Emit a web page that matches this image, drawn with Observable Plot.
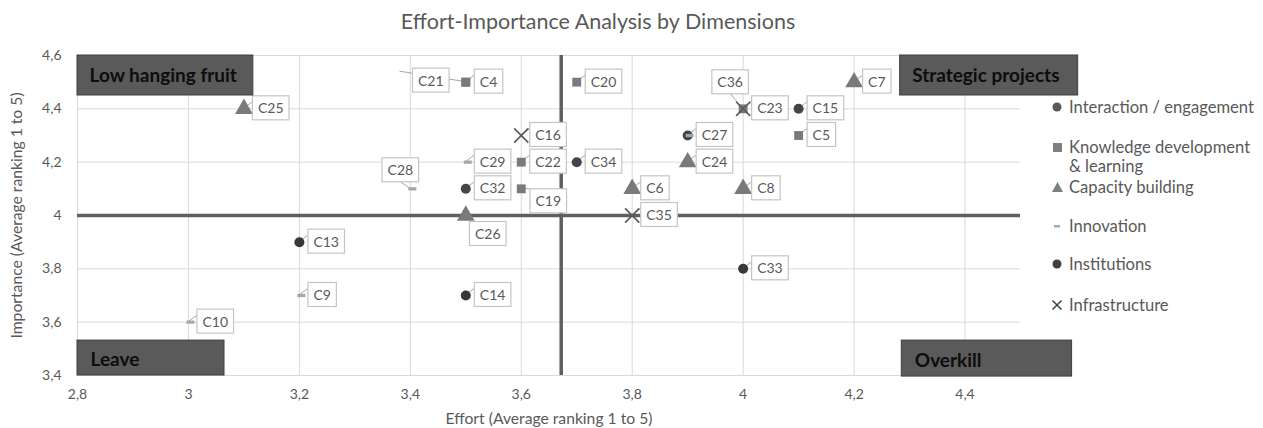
<!DOCTYPE html>
<html><head><meta charset="utf-8">
<script src="https://cdn.jsdelivr.net/npm/d3@7"></script>
<script src="https://cdn.jsdelivr.net/npm/@observablehq/plot@0.6"></script>
<style>
body{margin:0;background:#fff;font-family:Lato,"Open Sans",sans-serif;}
#wrap{position:relative;width:1263px;height:428px;overflow:hidden;background:#fff}
#chart{position:absolute;left:0;top:0}
#title{position:absolute;top:8px;left:298px;width:600px;text-align:center;font-size:21.5px;color:#595959;white-space:nowrap}
.lg{position:absolute;left:1051px;font-size:16.6px;color:#595959;line-height:18.5px;white-space:nowrap}
.lg svg{position:absolute;left:0;top:3px}
.lg span{position:absolute;left:18px;top:0}
</style></head><body>
<div id="wrap">
  <div id="chart"></div>
  <div id="title">Effort-Importance Analysis by Dimensions</div>
  <div id="legend"></div>
</div>
<script>
// ---- data ----
const dimensions = ["Interaction / engagement","Knowledge development & learning","Capacity building","Innovation","Institutions","Infrastructure"];
const names      = ["C25","C21","C4","C20","C7","C36","C23","C15","C16","C27","","C5","C29","C22","C34","C24","C28","C32","C19","C6","C8","C26","C35","C13","C33","C9","C14","C10"];
const effort     = [3.1,3.5,3.5,3.7,4.2,4.0,4.0,4.1,3.6,3.9,3.9,4.1,3.5,3.6,3.7,3.9,3.4,3.5,3.6,3.8,4.0,3.5,3.8,3.2,4.0,3.2,3.5,3.0];
const importance = [4.4,4.5,4.5,4.5,4.5,4.4,4.4,4.4,4.3,4.3,4.3,4.3,4.2,4.2,4.2,4.2,4.1,4.1,4.1,4.1,4.1,4.0,4.0,3.9,3.8,3.7,3.7,3.6];
const dimIndex   = [2,1,1,1,2,5,1,0,5,0,3,1,3,1,0,2,3,0,1,2,2,2,5,4,4,3,4,3];
const xTicks = [2.8,3.0,3.2,3.4,3.6,3.8,4.0,4.2,4.4];
const yTicks = [3.4,3.6,3.8,4.0,4.2,4.4,4.6];
const meanEffort = 3.672;
const meanImportance = 4.0;
const quadLabels = ["Low hanging fruit","Strategic projects","Leave","Overkill"];
const quadX1 = [2.8, 4.283, 2.8, 4.286];
const quadX2 = [3.117, 4.604, 3.065, 4.593];
const quadY1 = [4.45, 4.45, 3.4, 3.396];
const quadY2 = [4.6, 4.6, 3.531, 3.531];

// ---- tables ----
const points = names.map((n,i)=>({name:n, x:effort[i], y:importance[i], dim:dimensions[dimIndex[i]]}));
const quads = quadLabels.map((l,i)=>({label:l, x1:quadX1[i], x2:quadX2[i], y1:quadY1[i], y2:quadY2[i], top: i<2}));

// ---- styles ----
const dash = {draw(ctx, size){ const r = Math.sqrt(size/Math.PI); ctx.rect(-r+2, -1.6, 2*r, 3.2); }};
const symStyle = {
  "Interaction / engagement": {symbol:"circle", r:5, fill:"#454545"},
  "Knowledge development & learning": {symbol:"square", r:5, fill:"#7a7a7a"},
  "Capacity building": {symbol:"triangle", r:6.6, fill:"#7a7a7a"},
  "Innovation": {symbol:dash, r:4, fill:"#a6a6a6"},
  "Institutions": {symbol:"circle", r:5, fill:"#383838"},
  "Infrastructure": {symbol:"times", r:6.5, fill:"none", stroke:"#595959", strokeWidth:1.6}
};
const special = { // label placement (pixel offsets from the marker, text centred)
  "C21": {dx:-35, dy:-1, lead:[-13,3]},
  "C28": {dx:-10, dy:-18, lead:[1,12]},
  "C36": {dx:-13, dy:-26, lead:[0,2]},
  "C19": {dx:27, dy:13, lead:[0,0]},
  "C26": {dx:22, dy:19, lead:[0,0]}
};
const fmt = d => String(d).replace(".", ",");

const labelled = points.filter(d=>d.name);
const defaultLabels = labelled.filter(d=>!special[d.name]);
const specialLabels = labelled.filter(d=>special[d.name]);

const dotMarks = dimensions.map(dim => {
  const s = symStyle[dim];
  return Plot.dot(points.filter(d=>d.dim===dim), {x:"x", y:"y", symbol:s.symbol, r:s.r, fill:s.fill,
    stroke: s.stroke || "none", strokeWidth: s.strokeWidth || 0});
});

const plot = Plot.plot({
  width:1263, height:428,
  marginLeft:77, marginRight:243, marginTop:55, marginBottom:53,
  style:{fontFamily:"Lato, 'Open Sans', sans-serif", fontSize:"14px", color:"#595959", background:"white", overflow:"visible"},
  x:{domain:[2.8,4.5], ticks:xTicks, tickFormat:fmt, tickSize:0, tickPadding:14,
     label:"Effort (Average ranking 1 to 5)", labelAnchor:"center", labelOffset:48, labelArrow:"none"},
  y:{domain:[3.4,4.6], ticks:yTicks, tickFormat:fmt, tickSize:0, tickPadding:16,
     label:"Importance (Average ranking 1 to 5)", labelAnchor:"center", labelOffset:67, labelArrow:"none"},
  marks:[
    Plot.gridX(xTicks, {stroke:"#d9d9d9", strokeOpacity:1}),
    Plot.gridY(yTicks, {stroke:"#d9d9d9", strokeOpacity:1}),
    Plot.ruleY([meanImportance], {stroke:"#5f5f5f", strokeWidth:3.5}),
    Plot.ruleX([meanEffort], {stroke:"#5f5f5f", strokeWidth:3.5}),
    ...dotMarks,
    Plot.text(defaultLabels, {x:"x", y:"y", text:"name", textAnchor:"start", dx:14, fill:"#595959", fontSize:14}),
    ...specialLabels.map(d => Plot.text([d], {x:"x", y:"y", text:"name", textAnchor:"middle", dx:special[d.name].dx, dy:special[d.name].dy, fill:"#595959", fontSize:14})),
    Plot.rect(quads, {x1:"x1", x2:"x2", y1:"y1", y2:"y2", fill:"#5a5a5a", stroke:"#3f3f3f", strokeWidth:1}),
    Plot.text(quads.filter(d=>d.top), {x:"x1", y:d=>(d.y1+d.y2)/2, text:"label", textAnchor:"start", dx:12, fill:"#0d0d0d", fontSize:19, fontWeight:"bold"}),
    Plot.text(quads.filter(d=>!d.top), {x:"x1", y:d=>(d.y1+d.y2)/2, text:"label", textAnchor:"start", dx:13, dy:2, fill:"#0d0d0d", fontSize:19, fontWeight:"bold"})
  ]
});
document.getElementById("chart").append(plot);

// axis titles are larger than tick labels
plot.querySelectorAll('g[aria-label="x-axis label"] text, g[aria-label="y-axis label"] text').forEach(t => t.setAttribute("font-size", "15.7"));
plot.querySelectorAll('g[aria-label="x-axis label"], g[aria-label="y-axis label"]').forEach(g => g.setAttribute("font-size", "15.7"));

// ---- label boxes and leader lines ----
const NS = "http://www.w3.org/2000/svg";
const xs = plot.scale("x"), ys = plot.scale("y");
const svgRect = plot.getBoundingClientRect();
const order = [defaultLabels, ...specialLabels.map(d=>[d])];
const groups = Array.from(plot.querySelectorAll('g[aria-label="text"]')).slice(0, order.length);
const leadG = document.createElementNS(NS, "g");
leadG.setAttribute("stroke", "#a6a6a6"); leadG.setAttribute("stroke-width", "1");
groups.forEach((g, gi) => {
  const texts = g.querySelectorAll("text");
  texts.forEach((t, i) => {
    const d = order[gi][i];
    if (!d) return;
    const bb = t.getBBox();
    const cy = bb.y + bb.height/2;
    const r = document.createElementNS(NS, "rect");
    r.setAttribute("x", bb.x - 5.5); r.setAttribute("y", cy - 12);
    r.setAttribute("width", bb.width + 11); r.setAttribute("height", 24);
    r.setAttribute("fill", "white"); r.setAttribute("stroke", "#c4c4c4"); r.setAttribute("stroke-width", "1.2");
    const tr = t.getAttribute("transform"); if (tr) r.setAttribute("transform", tr);
    g.insertBefore(r, t);
    const rb = r.getBoundingClientRect();
    const bx = rb.left - svgRect.left, by = rb.top - svgRect.top;
    const mx = xs.apply(d.x), my = ys.apply(d.y);
    const sp = special[d.name];
    let ex, ey;
    if (sp) { ex = bx + sp.lead[0]; ey = by + sp.lead[1]; }
    else { ex = bx; ey = by + 6; }
    const l = document.createElementNS(NS, "line");
    l.setAttribute("x1", mx); l.setAttribute("y1", my); l.setAttribute("x2", ex); l.setAttribute("y2", ey);
    leadG.append(l);
  });
});
const firstDot = plot.querySelector('g[aria-label="dot"]');
if (firstDot) firstDot.parentNode.insertBefore(leadG, firstDot);

// ---- legend ----
const legendTop = [98, 138, 178, 217, 255, 296];
const legendSym = [
  '<circle cx="6" cy="6" r="4.5" fill="#595959"/>',
  '<rect x="2" y="2" width="9" height="9" fill="#7f7f7f"/>',
  '<path d="M6.5 1 L12 11 L1 11 Z" fill="#7f7f7f"/>',
  '<rect x="3" y="5" width="6" height="2.5" fill="#a6a6a6"/>',
  '<circle cx="6" cy="6" r="4.5" fill="#404040"/>',
  '<path d="M1.5 1.5 L10.5 10.5 M10.5 1.5 L1.5 10.5" stroke="#404040" stroke-width="1.5"/>'
];
const lg = document.getElementById("legend");
dimensions.forEach((name, i) => {
  const div = document.createElement("div");
  div.className = "lg";
  div.style.top = legendTop[i] + "px";
  const label = name === "Knowledge development & learning" ? "Knowledge development<br>&amp; learning" : name;
  div.innerHTML = `<svg width="13" height="13">${legendSym[i]}</svg><span>${label}</span>`;
  lg.append(div);
});
</script>
</body></html>
